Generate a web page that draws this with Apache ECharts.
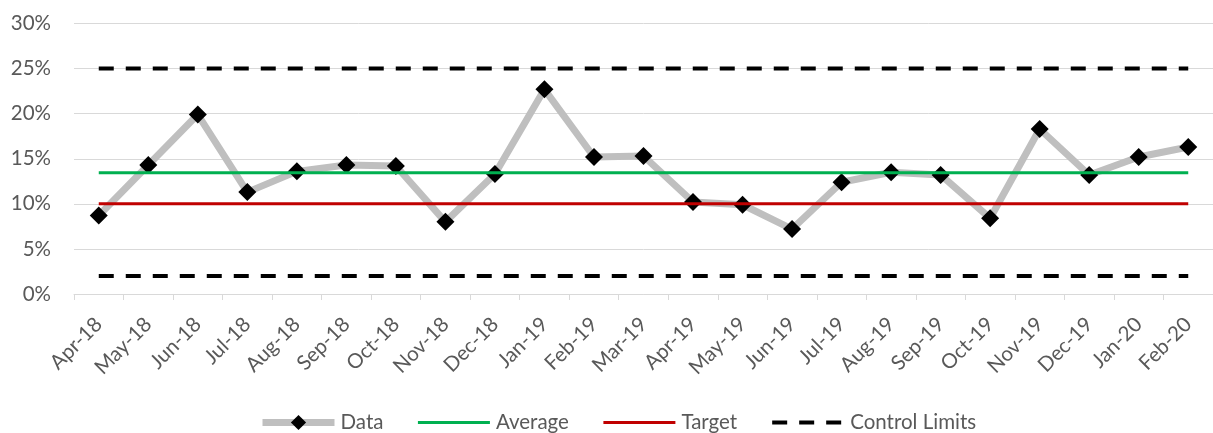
<!DOCTYPE html>
<html>
<head>
<meta charset="utf-8">
<script src="https://cdn.jsdelivr.net/npm/echarts@6/dist/echarts.min.js"></script>
<style>
  html, body { margin: 0; padding: 0; background: #fff; }
  #chart { width: 1213px; height: 433px; }
</style>
</head>
<body>
<div id="chart"></div>
<script>
// Monthly rate with average, target and control limits
const months = ['Apr-18','May-18','Jun-18','Jul-18','Aug-18','Sep-18','Oct-18','Nov-18','Dec-18',
  'Jan-19','Feb-19','Mar-19','Apr-19','May-19','Jun-19','Jul-19','Aug-19','Sep-19','Oct-19',
  'Nov-19','Dec-19','Jan-20','Feb-20'];
const dataValues = [8.7, 14.3, 19.9, 11.3, 13.6, 14.3, 14.2, 8.0, 13.3,
  22.7, 15.2, 15.3, 10.2, 9.9, 7.2, 12.4, 13.5, 13.2, 8.4,
  18.3, 13.2, 15.2, 16.3];
const averageValue = 13.45;
const targetValue = 10;
const upperLimit = 25;
const lowerLimit = 2;
const yTicks = [0, 5, 10, 15, 20, 25, 30];

const flat = v => months.map(() => v);
const textColor = '#595959';
const font = 'Lato, "Open Sans", sans-serif';
const dash = [15, 12];
const colors = { data: '#BFBFBF', average: '#00B050', target: '#C00000', limits: '#000000' };

const chart = echarts.init(document.getElementById('chart'));
chart.setOption({
  animation: false,
  grid: { left: 74, right: -7, top: 23.5, bottom: 139 },
  legend: {
    top: 407,
    left: 254,
    itemGap: 33,
    itemWidth: 72,
    itemHeight: 19,
    textStyle: { color: textColor, fontSize: 20.5, fontFamily: font, padding: [0, 0, 0, 1] },
    data: [
      { name: 'Data', lineStyle: { color: colors.data, width: 7 } },
      { name: 'Average', itemStyle: { opacity: 0 }, lineStyle: { color: colors.average, width: 3 } },
      { name: 'Target', itemStyle: { opacity: 0 }, lineStyle: { color: colors.target, width: 3 } },
      { name: 'Control Limits', itemStyle: { opacity: 0 }, lineStyle: { color: colors.limits, width: 4, type: dash } }
    ]
  },
  xAxis: {
    type: 'category',
    data: months,
    boundaryGap: true,
    axisLine: { lineStyle: { color: '#D9D9D9', width: 1 } },
    axisTick: { show: true, length: 6, lineStyle: { color: '#D9D9D9' } },
    axisLabel: { rotate: 45, color: textColor, fontSize: 20.5, fontFamily: font, margin: 27, interval: 0 }
  },
  yAxis: {
    type: 'value',
    min: yTicks[0],
    max: yTicks[yTicks.length - 1],
    interval: 5,
    axisLine: { show: false },
    axisTick: { show: false },
    splitLine: { lineStyle: { color: '#D9D9D9', width: 1 } },
    axisLabel: { color: textColor, fontSize: 20.5, fontFamily: font, margin: 23, formatter: v => v + '%' }
  },
  series: [
    {
      name: 'Control Limits',
      type: 'line',
      data: flat(upperLimit),
      symbol: 'none',
      lineStyle: { color: colors.limits, width: 4, type: dash },
      itemStyle: { color: colors.limits },
      z: 2
    },
    {
      name: 'Control Limits',
      type: 'line',
      data: flat(lowerLimit),
      symbol: 'none',
      lineStyle: { color: colors.limits, width: 4, type: dash },
      itemStyle: { color: colors.limits },
      z: 2
    },
    {
      name: 'Data',
      type: 'line',
      data: dataValues,
      symbol: 'diamond',
      symbolSize: 18,
      lineStyle: { color: colors.data, width: 7 },
      itemStyle: { color: '#000', borderWidth: 0 },
      z: 3
    },
    {
      name: 'Average',
      type: 'line',
      data: flat(averageValue),
      symbol: 'none',
      lineStyle: { color: colors.average, width: 3 },
      itemStyle: { color: colors.average },
      z: 4
    },
    {
      name: 'Target',
      type: 'line',
      data: flat(targetValue),
      symbol: 'none',
      lineStyle: { color: colors.target, width: 3 },
      itemStyle: { color: colors.target },
      z: 4
    }
  ]
});
</script>
</body>
</html>
